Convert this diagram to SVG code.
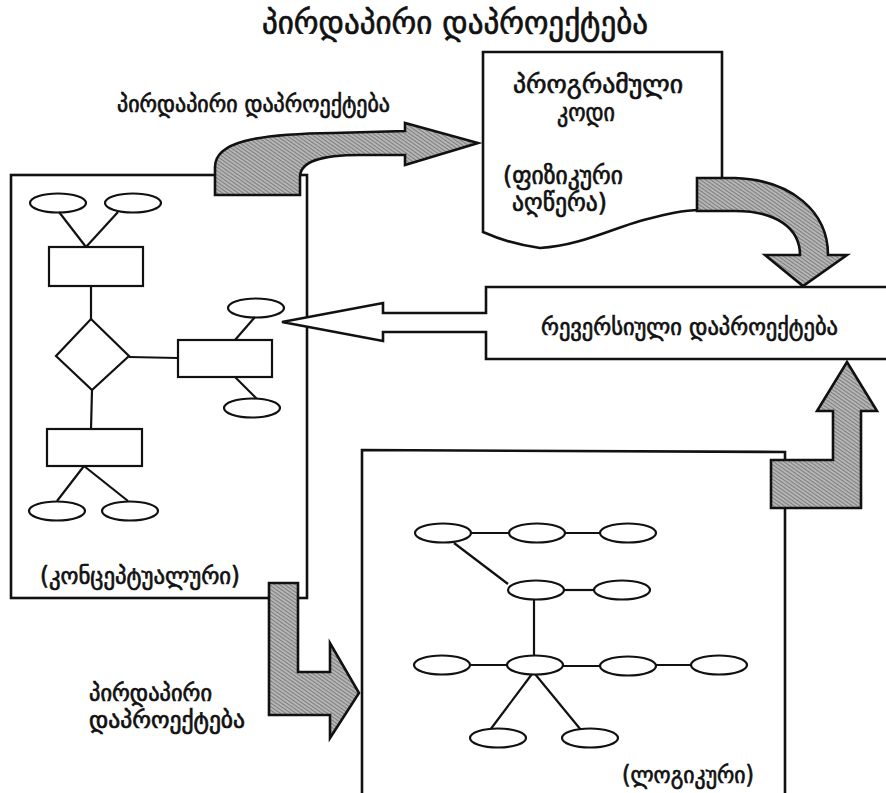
<svg xmlns="http://www.w3.org/2000/svg" width="886" height="793" viewBox="0 0 886 793">
  <defs>
    <!-- stippled grey fill used by the wide block arrows -->
    <pattern id="hatch" width="3" height="3" patternUnits="userSpaceOnUse" patternTransform="rotate(35)">
      <rect width="3" height="3" fill="#b8b8b8"/>
      <rect width="3" height="1.1" fill="#7e7e7e"/>
    </pattern>
  </defs>
  <style>
    .frame { fill: #fff; stroke: #111; stroke-width: 2.6; stroke-linejoin: miter; }
    .shape { fill: #fff; stroke: #111; stroke-width: 2.2; }
    .edge { stroke: #111; stroke-width: 2.2; fill: none; }
    .block { fill: url(#hatch); stroke: #111; stroke-width: 2.6; stroke-linejoin: miter; }
    .ka { font-family: "DejaVu Sans", "Noto Sans", sans-serif; font-weight: normal; fill: #111; stroke: #111; stroke-width: 0.7; }
  </style>

  <rect width="886" height="793" fill="#fff"/>

  <!-- heading -->
  <g id="title">
    <text class="ka" x="262" y="34" font-size="32" textLength="386" lengthAdjust="spacingAndGlyphs">პირდაპირი  დაპროექტება</text>
  </g>

  <!-- conceptual model frame with ER sketch -->
  <g id="conceptual">
    <rect class="frame" x="11" y="175" width="296" height="423"/>
    <g id="er-entities">
      <ellipse class="shape" cx="58" cy="203" rx="28" ry="9.5"/>
      <ellipse class="shape" cx="133" cy="203" rx="28" ry="9.5"/>
      <line class="edge" x1="59" y1="212" x2="86" y2="247"/>
      <line class="edge" x1="118" y1="212" x2="86" y2="247"/>
      <rect class="shape" x="49" y="247" width="94" height="39"/>
      <line class="edge" x1="91" y1="286" x2="91" y2="319"/>
      <polygon class="shape" points="91,319 129,356 92,390 56,356"/>
      <line class="edge" x1="129" y1="357" x2="178" y2="358"/>
      <rect class="shape" x="178" y="340" width="94" height="37"/>
      <ellipse class="shape" cx="256" cy="308" rx="28" ry="9.5"/>
      <line class="edge" x1="255" y1="317" x2="235" y2="340"/>
      <line class="edge" x1="235" y1="377" x2="257" y2="399"/>
      <ellipse class="shape" cx="252" cy="408" rx="28" ry="9.5"/>
      <line class="edge" x1="92" y1="390" x2="91" y2="429"/>
      <rect class="shape" x="47" y="429" width="95" height="37"/>
      <line class="edge" x1="84" y1="466" x2="57" y2="501"/>
      <line class="edge" x1="84" y1="466" x2="128" y2="501"/>
      <ellipse class="shape" cx="57" cy="511" rx="28" ry="9.5"/>
      <ellipse class="shape" cx="130" cy="511" rx="28" ry="9.5"/>
    </g>
    <text class="ka" x="40" y="584" font-size="24" textLength="200" lengthAdjust="spacingAndGlyphs">(კონცეპტუალური)</text>
  </g>

  <!-- program code sheet with wavy bottom edge -->
  <g id="program-code">
    <path class="frame" d="M700,210 C680,210 660,216 640,221 C612,229 578,246 540,248 Q510,244 483,232 L483,52 L722,52 L722,182"/>
    <text class="ka" x="513" y="93" font-size="25" textLength="170" lengthAdjust="spacingAndGlyphs">პროგრამული</text>
    <text class="ka" x="557" y="121" font-size="25" textLength="58" lengthAdjust="spacingAndGlyphs">კოდი</text>
    <text class="ka" x="503" y="184" font-size="25" textLength="120" lengthAdjust="spacingAndGlyphs">(ფიზიკური</text>
    <text class="ka" x="512" y="211" font-size="25" textLength="95" lengthAdjust="spacingAndGlyphs">აღწერა)</text>
  </g>

  <!-- reverse engineering bar, its outline runs into the open arrow -->
  <g id="reverse-engineering">
    <path class="frame" d="M890,287 L486,287 L486,313 L383,313 L383,303 L282,322 L383,341 L383,332 L486,332 L486,359 L890,359"/>
    <text class="ka" x="541" y="335" font-size="24" textLength="297" lengthAdjust="spacingAndGlyphs">რევერსიული დაპროექტება</text>
  </g>

  <!-- logical model frame with network sketch -->
  <g id="logical">
    <path class="frame" d="M362,800 L362,450 L785,452 L785,800"/>
    <g id="net-records">
      <line class="edge" x1="471" y1="533" x2="509" y2="533"/>
      <line class="edge" x1="565" y1="533" x2="600" y2="533"/>
      <line class="edge" x1="454" y1="543" x2="508" y2="584"/>
      <line class="edge" x1="564" y1="590" x2="594" y2="590"/>
      <line class="edge" x1="534" y1="599" x2="534" y2="656"/>
      <line class="edge" x1="470" y1="665" x2="507" y2="665"/>
      <line class="edge" x1="563" y1="666" x2="600" y2="666"/>
      <line class="edge" x1="656" y1="665" x2="691" y2="665"/>
      <line class="edge" x1="532" y1="674" x2="490" y2="730"/>
      <line class="edge" x1="535" y1="674" x2="581" y2="730"/>
      <ellipse class="shape" cx="443" cy="533" rx="28" ry="9.5"/>
      <ellipse class="shape" cx="537" cy="533" rx="28" ry="9.5"/>
      <ellipse class="shape" cx="628" cy="533" rx="28" ry="9.5"/>
      <ellipse class="shape" cx="536" cy="590" rx="28" ry="9.5"/>
      <ellipse class="shape" cx="622" cy="590" rx="28" ry="9.5"/>
      <ellipse class="shape" cx="442" cy="665" rx="28" ry="9.5"/>
      <ellipse class="shape" cx="535" cy="665" rx="28" ry="9.5"/>
      <ellipse class="shape" cx="628" cy="666" rx="28" ry="9.5"/>
      <ellipse class="shape" cx="719" cy="665" rx="28" ry="9.5"/>
      <ellipse class="shape" cx="498" cy="738" rx="28" ry="9.5"/>
      <ellipse class="shape" cx="590" cy="738" rx="28" ry="9.5"/>
    </g>
    <text class="ka" x="622" y="783" font-size="24" textLength="132" lengthAdjust="spacingAndGlyphs">(ლოგიკური)</text>
  </g>

  <!-- block arrows between the stages -->
  <g id="connectors">
    <path class="block" d="M215,195 L215,167 C215,142 255,134 333,133 L405,131 L405,123 L478,143 L405,165 L405,155 L360,155 C322,155 300,161 300,177 L300,195 Z"/>
    <path class="block" d="M697,178 L735,178 C792,180 828,212 828,255 L847,255 L803,286 L765,255 L800,255 C800,228 776,211 735,211 L697,211 Z"/>
    <path class="block" d="M771,460 L833,460 L833,411 L817,411 L847,362 L877,411 L861,411 L861,508 L771,508 Z"/>
    <path class="block" d="M269,583 L298,583 L298,672 L330,672 L330,643 L359,693 L330,738 L330,715 L269,715 Z"/>
  </g>

  <!-- arrow captions -->
  <g id="caption-top">
    <text class="ka" x="117" y="112" font-size="23" textLength="273" lengthAdjust="spacingAndGlyphs">პირდაპირი დაპროექტება</text>
  </g>
  <g id="caption-bottom">
    <text class="ka" x="89" y="701" font-size="23" textLength="123" lengthAdjust="spacingAndGlyphs">პირდაპირი</text>
    <text class="ka" x="89" y="728" font-size="23" textLength="156" lengthAdjust="spacingAndGlyphs">დაპროექტება</text>
  </g>
</svg>
